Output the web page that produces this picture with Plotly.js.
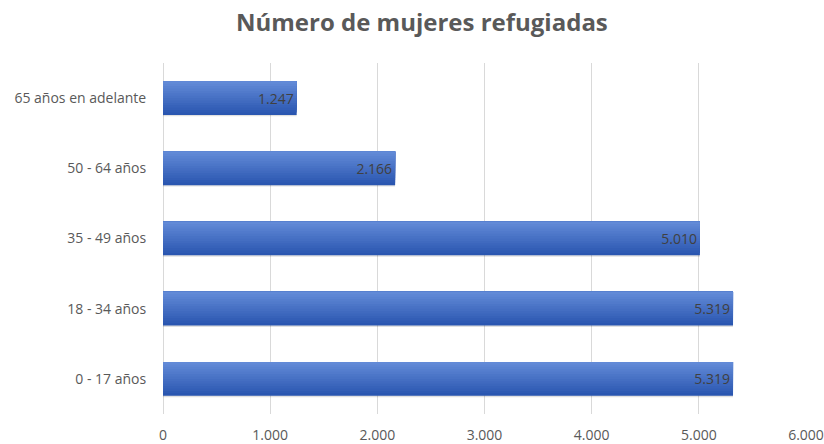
<!DOCTYPE html>
<html>
<head>
<meta charset="utf-8">
<script src="https://cdn.plot.ly/plotly-3.0.1.min.js"></script>
<style>html,body{margin:0;padding:0;background:#fff;}#chart{width:824px;height:444px;}</style>
</head>
<body>
<div id="chart"></div>
<script>
const categories = ["0 - 17 años", "18 - 34 años", "35 - 49 años", "50 - 64 años", "65 años en adelante"];
const values = [5319, 5319, 5010, 2166, 1247];
const labels = ["5.319", "5.319", "5.010", "2.166", "1.247"];
const xTicks = [0, 1000, 2000, 3000, 4000, 5000, 6000];
const xTickText = ["0", "1.000", "2.000", "3.000", "4.000", "5.000", "6.000"];

const barWidth = 0.48;
const nBands = 14;
const dark = [42, 86, 176];
const light = [98, 138, 215];
const traces = [];
// subtle shadow
traces.push({
  type: 'bar', orientation: 'h',
  y: categories, x: values,
  width: barWidth, offset: -barWidth / 2 - 0.02,
  marker: {color: 'rgba(0,0,0,0.12)', line: {width: 0}},
  hoverinfo: 'skip', showlegend: false
});
for (let i = 0; i < nBands; i++) {
  const t = i / (nBands - 1);
  const c = dark.map((d, k) => Math.round(d + (light[k] - d) * t));
  traces.push({
    type: 'bar', orientation: 'h',
    y: categories, x: values,
    width: barWidth - i * barWidth / nBands,
    offset: -barWidth / 2 + i * barWidth / nBands,
    marker: {color: 'rgb(' + c.join(',') + ')', line: {width: 0}},
    hoverinfo: 'skip', showlegend: false
  });
}
traces.push({
  type: 'bar', orientation: 'h',
  y: categories, x: values,
  width: barWidth,
  marker: {color: 'rgba(0,0,0,0)', line: {width: 0}},
  text: labels, textposition: 'inside', insidetextanchor: 'end',
  constraintext: 'none',
  textfont: {family: 'Open Sans, sans-serif', size: 14, color: '#404040'},
  showlegend: false
});

Plotly.newPlot('chart', traces, {
  width: 824, height: 444,
  margin: {l: 163, r: 18, t: 63, b: 30},
  paper_bgcolor: '#fff', plot_bgcolor: '#fff',
  barmode: 'overlay',
  separators: ',.',
  title: {text: 'Número de mujeres refugiadas', x: 0.512, xanchor: 'center', y: 0.95, yanchor: 'middle',
          font: {family: 'Open Sans, sans-serif', size: 24, color: '#595959', weight: 'bold'}},
  xaxis: {range: [0, 6000], tickvals: xTicks, ticktext: xTickText, showgrid: true, gridcolor: '#d9d9d9',
          zeroline: true, zerolinecolor: '#d9d9d9', zerolinewidth: 1, showline: false,
          ticks: 'outside', ticklen: 8, tickcolor: 'rgba(0,0,0,0)',
          tickfont: {family: 'Open Sans, sans-serif', size: 14, color: '#595959'}, fixedrange: true},
  yaxis: {type: 'category', categoryorder: 'array', categoryarray: categories, showgrid: false,
          zeroline: false, showline: false, ticks: 'outside', ticklen: 13, tickcolor: 'rgba(0,0,0,0)',
          tickfont: {family: 'Open Sans, sans-serif', size: 14, color: '#595959'}, fixedrange: true}
}, {staticPlot: true});
</script>
</body>
</html>
